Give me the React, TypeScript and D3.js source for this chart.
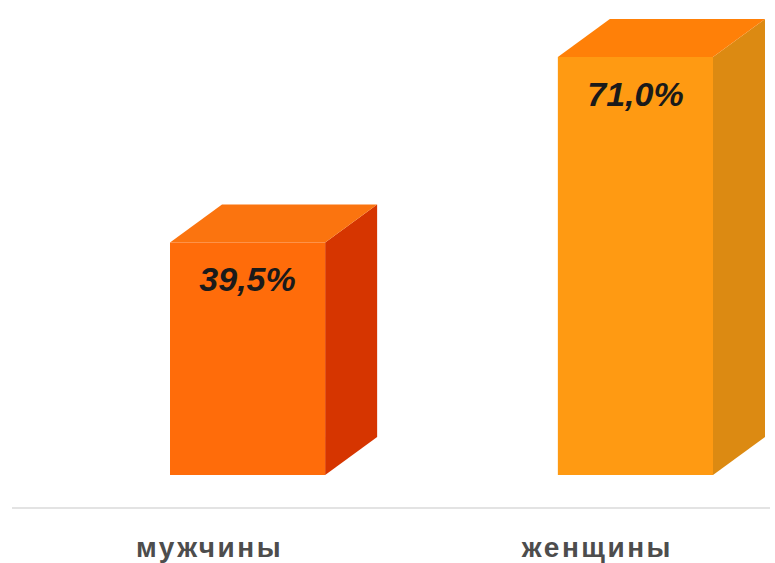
import { scaleBand, scaleLinear } from "d3";

const W = 775;
const H = 563;

const categories = ["мужчины", "женщины"];
const values = [39.5, 71.0];
const valueLabels = ["39,5%", "71,0%"];
const frontColors = ["#ff6c0a", "#ff9a12"];
const topColors = ["#fb740f", "#ff8008"];
const sideColors = ["#d63500", "#dc8a12"];

// 3D depth of the bars
const DX = 52;
const DY = -38;

export default function App() {
  const x = scaleBand<string>().domain(categories).range([170, 713]).paddingInner(0.6).paddingOuter(0);
  const y = scaleLinear().domain([0, 71]).range([475, 57]);
  const bw = x.bandwidth();

  return (
    <svg width={W} height={H} style={{ position: "absolute", left: 0, top: 0 }}>
      <rect width={W} height={H} fill="#fff" />
      <line x1={12} x2={770} y1={y(0) + 33} y2={y(0) + 33} stroke="#dadada" strokeWidth={1.5} />
      {categories.map((c, i) => {
        const x0 = x(c) ?? 0;
        const x1 = x0 + bw;
        const yt = y(values[i]);
        const yb = y(0);
        const front = `M${x0},${yt}H${x1}V${yb}H${x0}Z`;
        const top = `M${x0},${yt}L${x0 + DX},${yt + DY}H${x1 + DX}L${x1},${yt}Z`;
        const side = `M${x1},${yt}L${x1 + DX},${yt + DY}V${yb + DY}L${x1},${yb}Z`;
        return (
          <g key={c}>
            <path d={side} fill={sideColors[i]} />
            <path d={top} fill={topColors[i]} />
            <path d={front} fill={frontColors[i]} />
            <text
              x={x0 + bw / 2}
              y={yt + 49}
              textAnchor="middle"
              fontFamily="'Liberation Sans', Arial, sans-serif"
              fontWeight="bold"
              fontStyle="italic"
              fontSize={34}
              fill="#1a1a1a"
            >
              {valueLabels[i]}
            </text>
            <text
              x={x0 + bw / 2 - 38}
              y={557}
              textAnchor="middle"
              fontFamily="'Liberation Sans', Arial, sans-serif"
              fontWeight="bold"
              fontSize={28}
              letterSpacing={2.5}
              fill="#4d4d4d"
            >
              {c}
            </text>
          </g>
        );
      })}
    </svg>
  );
}
